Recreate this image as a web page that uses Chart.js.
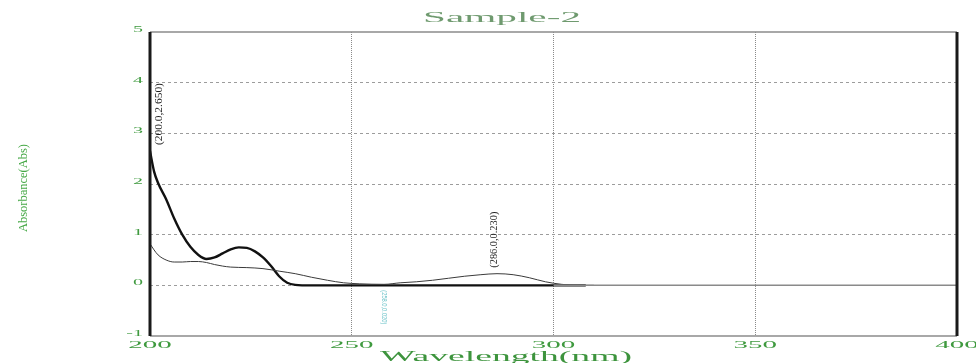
<!DOCTYPE html>
<html>
<head>
<meta charset="utf-8">
<script src="https://cdn.jsdelivr.net/npm/chart.js@4.4.1/dist/chart.umd.min.js"></script>
<style>
  html, body { margin: 0; padding: 0; background: #ffffff; }
  #wrap { width: 976px; height: 363px; }
</style>
</head>
<body>
<div id="wrap"><canvas id="c" width="976" height="363"></canvas></div>
<script>
// Spectrum 1 (heavy trace): wavelength (nm) and absorbance (Abs)
const wavelengthA = [200, 201, 202, 204, 206, 208, 210, 212, 214, 216, 218, 220, 222, 224, 226, 228, 230, 232, 234, 236, 240, 250, 260, 270, 280, 290, 300, 308];
const absorbanceA = [2.65, 2.25, 2.02, 1.70, 1.32, 1.00, 0.76, 0.60, 0.52, 0.55, 0.63, 0.71, 0.75, 0.74, 0.67, 0.55, 0.38, 0.18, 0.05, 0.01, 0.0, 0.0, 0.0, 0.0, 0.0, 0.0, 0.0, 0.0];

// Spectrum 2 (fine trace)
const wavelengthB = [200, 201, 202, 204, 206, 208, 210, 212, 214, 216, 218, 220, 224, 228, 232, 236, 240, 244, 248, 252, 258, 262, 266, 270, 274, 278, 282, 286, 290, 294, 298, 302, 306, 310];
const absorbanceB = [0.82, 0.70, 0.60, 0.50, 0.46, 0.46, 0.47, 0.47, 0.45, 0.41, 0.38, 0.36, 0.35, 0.33, 0.28, 0.23, 0.16, 0.10, 0.05, 0.03, 0.02, 0.05, 0.07, 0.10, 0.14, 0.18, 0.21, 0.23, 0.21, 0.15, 0.07, 0.02, 0.0, 0.0];

// Zero baseline past the scanned range
const baselineX = [300, 400];
const baselineY = [0, 0];

// Axis ticks
const xTicks = [200, 250, 300, 350, 400];
const yTicks = [-1, 0, 1, 2, 3, 4, 5];

// Peak / valley picks
const peakX = [200.0, 286.0];
const peakY = [2.65, 0.23];
const valleyX = [258.0];
const valleyY = [0.02];

const toPoints = (xs, ys) => xs.map((x, i) => ({ x: x, y: ys[i] }));

// Draw text squeezed or stretched to a given run length
function fittedText(ctx, text, cx, cy, font, color, length, angle) {
  ctx.save();
  ctx.font = font;
  ctx.fillStyle = color;
  ctx.textAlign = 'center';
  ctx.textBaseline = 'middle';
  const w = ctx.measureText(text).width;
  ctx.translate(cx, cy);
  ctx.rotate(angle || 0);
  ctx.scale(length / w, 1);
  ctx.fillText(text, 0, 0);
  ctx.restore();
}

function stretchedText(ctx, text, x, y, font, color, sx, align) {
  ctx.save();
  ctx.font = font;
  ctx.fillStyle = color;
  ctx.textAlign = align;
  ctx.textBaseline = 'middle';
  ctx.translate(x, y);
  ctx.scale(sx, 1);
  ctx.fillText(text, 0, 0);
  ctx.restore();
}

const frameAndText = {
  id: 'frameAndText',
  afterDatasetsDraw(chart) {
    const { ctx, chartArea: a, scales } = chart;
    const xs = scales.x, ys = scales.y;

    // plot frame
    ctx.save();
    ctx.strokeStyle = '#8c8c8c';
    ctx.lineWidth = 1.5;
    ctx.beginPath();
    ctx.moveTo(a.left, a.top); ctx.lineTo(a.right, a.top);
    ctx.moveTo(a.left, a.bottom); ctx.lineTo(a.right, a.bottom);
    ctx.stroke();
    ctx.strokeStyle = '#1a1a1a';
    ctx.lineWidth = 3;
    ctx.beginPath();
    ctx.moveTo(a.left, a.top); ctx.lineTo(a.left, a.bottom);
    ctx.moveTo(a.right, a.top); ctx.lineTo(a.right, a.bottom);
    ctx.stroke();
    ctx.restore();

    // tick labels
    const tickColor = '#3f9a3f';
    xTicks.forEach(v => {
      stretchedText(ctx, String(v), xs.getPixelForValue(v), a.bottom + 9, '10px "Liberation Serif"', tickColor, 2.9, 'center');
    });
    yTicks.forEach(v => {
      stretchedText(ctx, String(v), a.left - 7, ys.getPixelForValue(v) - 2, '8px "Liberation Serif"', tickColor, 2.5, 'right');
    });

    // titles
    fittedText(ctx, 'Sample-2', 502, 18, '14px "Liberation Serif"', '#6f9a6f', 158, 0);
    fittedText(ctx, 'Wavelength(nm)', 506, 357, '14px "Liberation Serif"', '#3d943d', 252, 0);
    fittedText(ctx, 'Absorbance(Abs)', 24, 188, '13px "Liberation Serif"', '#45a845', 88, -Math.PI / 2);

    // peak picks, written upward above each peak
    const lens = [62, 56];
    peakX.forEach((px, i) => {
      const label = '(' + px.toFixed(1) + ',' + peakY[i].toFixed(3) + ')';
      const x = xs.getPixelForValue(px);
      const y = ys.getPixelForValue(peakY[i]);
      const len = lens[i];
      const dx = i === 0 ? 9 : -3;
      fittedText(ctx, label, x + dx, y - 6 - len / 2, '10px "Liberation Serif"', '#1e1e1e', len, -Math.PI / 2);
    });

    // valley pick, written downward below the zero line
    valleyX.forEach((vx, i) => {
      const label = '(' + vx.toFixed(1) + ',' + valleyY[i].toFixed(3) + ')';
      const x = xs.getPixelForValue(vx);
      const y = ys.getPixelForValue(valleyY[i]);
      fittedText(ctx, label, x, y + 6 + 17, '7px "Liberation Sans"', '#6cc3c9', 34, Math.PI / 2);
    });
  }
};

new Chart(document.getElementById('c'), {
  type: 'line',
  data: {
    datasets: [
      {
        data: toPoints(baselineX, baselineY),
        borderColor: '#8a8a8a',
        borderWidth: 1.5,
        pointRadius: 0,
        tension: 0
      },
      {
        data: toPoints(wavelengthB, absorbanceB),
        borderColor: '#3a3a3a',
        borderWidth: 1,
        pointRadius: 0,
        cubicInterpolationMode: 'monotone'
      },
      {
        data: toPoints(wavelengthA, absorbanceA),
        borderColor: '#111111',
        borderWidth: 2.4,
        pointRadius: 0,
        cubicInterpolationMode: 'monotone'
      }
    ]
  },
  options: {
    responsive: false,
    devicePixelRatio: 1,
    animation: false,
    layout: { padding: { top: 32, right: 19, bottom: 0, left: 0 } },
    plugins: {
      legend: { display: false },
      tooltip: { enabled: false },
      title: { display: false }
    },
    scales: {
      x: {
        type: 'linear',
        min: 200,
        max: 400,
        ticks: { display: false, stepSize: 50 },
        grid: {
          drawTicks: false,
          lineWidth: 1,
          color: c => (c.tick && c.tick.value > 200 && c.tick.value < 400) ? '#8a8a8a' : 'rgba(0,0,0,0)'
        },
        border: { display: false, dash: [1, 1] },
        afterFit: s => { s.height = 27; }
      },
      y: {
        type: 'linear',
        min: -1,
        max: 5,
        ticks: { display: false, stepSize: 1 },
        grid: {
          drawTicks: false,
          lineWidth: 1,
          color: c => (c.tick && c.tick.value > -1 && c.tick.value < 5) ? '#9c9c9c' : 'rgba(0,0,0,0)'
        },
        border: { display: false, dash: [3, 3] },
        afterFit: s => { s.width = 150; }
      }
    }
  },
  plugins: [frameAndText]
});
</script>
</body>
</html>
